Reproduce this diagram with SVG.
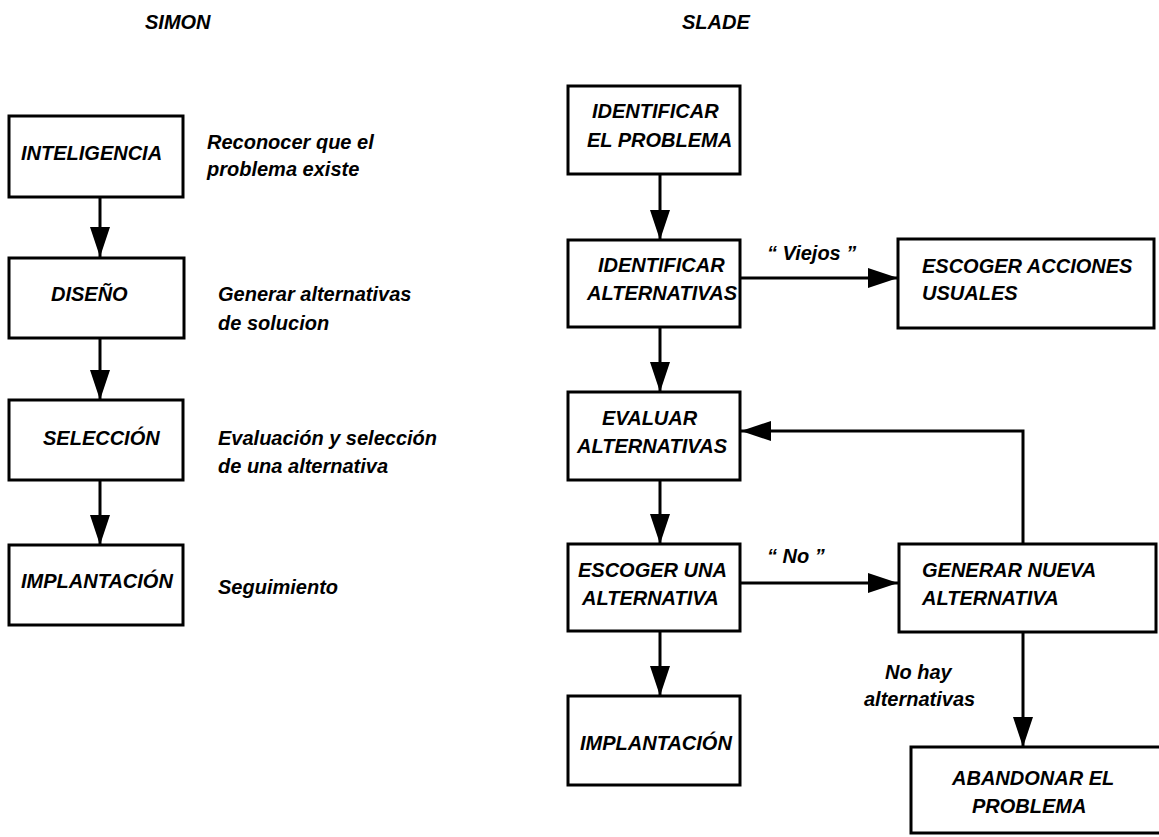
<svg xmlns="http://www.w3.org/2000/svg" width="1159" height="837" viewBox="0 0 1159 837">
<style>
text{font-family:"Liberation Sans",Arial,sans-serif;font-size:20px;font-weight:bold;font-style:italic;fill:#000}
.box{fill:#fff;stroke:#000;stroke-width:3}
.edge{fill:none;stroke:#000;stroke-width:3}
</style>
<defs>
<marker id="ah" markerUnits="userSpaceOnUse" markerWidth="32" markerHeight="22" refX="30" refY="10" orient="auto" viewBox="0 0 32 22">
<path d="M0,0 L30,10 L0,20 z" fill="#000"/>
</marker>
</defs>
<rect width="1159" height="837" fill="#fff"/>

<g id="titles">
<text x="145" y="29">SIMON</text>
<text x="682" y="29">SLADE</text>
</g>

<g id="connectors">
<line class="edge" x1="100" y1="197" x2="100" y2="257" marker-end="url(#ah)"/>
<line class="edge" x1="100" y1="338" x2="100" y2="400" marker-end="url(#ah)"/>
<line class="edge" x1="100" y1="480" x2="100" y2="545" marker-end="url(#ah)"/>

<line class="edge" x1="660" y1="174" x2="660" y2="240" marker-end="url(#ah)"/>
<line class="edge" x1="740" y1="278" x2="898" y2="278" marker-end="url(#ah)"/>
<line class="edge" x1="660" y1="327" x2="660" y2="392" marker-end="url(#ah)"/>
<polyline class="edge" points="1023,544 1023,431 741,431" marker-end="url(#ah)"/>
<line class="edge" x1="660" y1="480" x2="660" y2="544" marker-end="url(#ah)"/>
<line class="edge" x1="740" y1="583" x2="898" y2="583" marker-end="url(#ah)"/>
<line class="edge" x1="660" y1="631" x2="660" y2="696" marker-end="url(#ah)"/>
<line class="edge" x1="1023" y1="632" x2="1023" y2="747" marker-end="url(#ah)"/>
<text x="767" y="260">“ Viejos ”</text>
<text x="767" y="563">“ No ”</text>
<text x="885" y="679">No hay</text>
<text x="864" y="706">alternativas</text>
</g>

<g id="simon-inteligencia">
<rect class="box" x="9" y="116" width="174" height="81"/>
<text x="21" y="160">INTELIGENCIA</text>
<text x="207" y="149">Reconocer que el</text>
<text x="207" y="176">problema existe</text>
</g>
<g id="simon-diseno">
<rect class="box" x="9" y="258" width="175" height="80"/>
<text x="51" y="301">DISEÑO</text>
<text x="218" y="301">Generar alternativas</text>
<text x="218" y="330">de solucion</text>
</g>
<g id="simon-seleccion">
<rect class="box" x="9" y="400" width="174" height="80"/>
<text x="43" y="445">SELECCIÓN</text>
<text x="218" y="445">Evaluación y selección</text>
<text x="218" y="473">de una alternativa</text>
</g>
<g id="simon-implantacion">
<rect class="box" x="9" y="545" width="174" height="80"/>
<text x="21" y="588">IMPLANTACIÓN</text>
<text x="218" y="594">Seguimiento</text>
</g>

<g id="slade-identificar-problema">
<rect class="box" x="568" y="86" width="172" height="88"/>
<text x="592" y="118">IDENTIFICAR</text>
<text x="587" y="147">EL PROBLEMA</text>
</g>
<g id="slade-identificar-alternativas">
<rect class="box" x="568" y="240" width="172" height="87"/>
<text x="598" y="272">IDENTIFICAR</text>
<text x="587" y="300">ALTERNATIVAS</text>
</g>
<g id="slade-escoger-acciones">
<rect class="box" x="898" y="239" width="256" height="89"/>
<text x="922" y="273">ESCOGER ACCIONES</text>
<text x="922" y="300">USUALES</text>
</g>
<g id="slade-evaluar">
<rect class="box" x="568" y="392" width="172" height="88"/>
<text x="602" y="425">EVALUAR</text>
<text x="577" y="453">ALTERNATIVAS</text>
</g>
<g id="slade-escoger-una">
<rect class="box" x="568" y="544" width="172" height="87"/>
<text x="578" y="577">ESCOGER UNA</text>
<text x="582" y="605">ALTERNATIVA</text>
</g>
<g id="slade-generar">
<rect class="box" x="899" y="544" width="257" height="88"/>
<text x="922" y="577">GENERAR NUEVA</text>
<text x="922" y="605">ALTERNATIVA</text>
</g>
<g id="slade-implantacion">
<rect class="box" x="568" y="696" width="172" height="89"/>
<text x="580" y="750">IMPLANTACIÓN</text>
</g>
<g id="slade-abandonar">
<rect class="box" x="911" y="747" width="270" height="86"/>
<text x="952" y="785">ABANDONAR EL</text>
<text x="972" y="813">PROBLEMA</text>
</g>
</svg>
